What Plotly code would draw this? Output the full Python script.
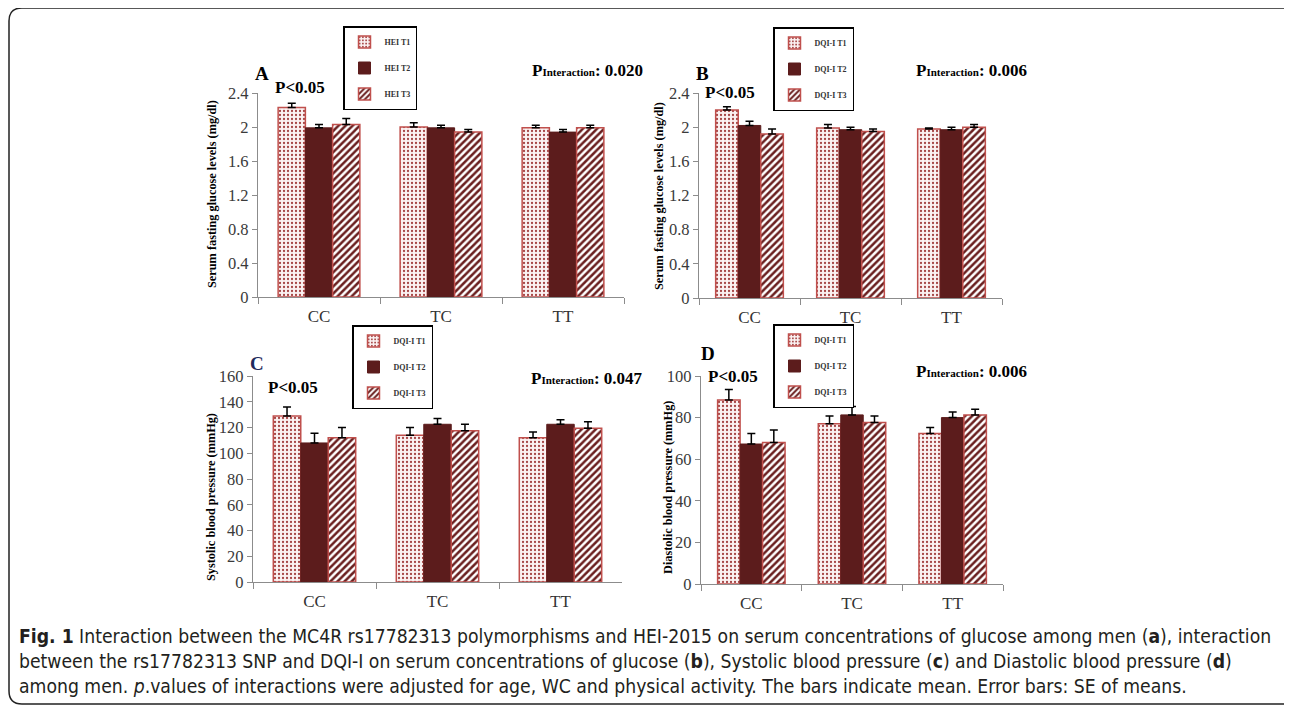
import plotly.graph_objects as go

W, H = 1292, 706
OFF = 8  # page body margin offset in the rendered page

categories = ["CC", "TC", "TT"]

# Panel A: HEI tertiles, serum fasting glucose
a_t1 = [2.23, 2.00, 1.99]
a_t1_se = [0.05, 0.05, 0.03]
a_t2 = [1.99, 1.99, 1.94]
a_t2_se = [0.04, 0.03, 0.03]
a_t3 = [2.03, 1.94, 1.99]
a_t3_se = [0.07, 0.03, 0.03]

# Panel B: DQI-I tertiles, serum fasting glucose
b_t1 = [2.20, 1.99, 1.98]
b_t1_se = [0.04, 0.04, 0.01]
b_t2 = [2.02, 1.97, 1.97]
b_t2_se = [0.05, 0.03, 0.03]
b_t3 = [1.92, 1.95, 2.00]
b_t3_se = [0.06, 0.03, 0.03]

# Panel C: DQI-I tertiles, systolic blood pressure
c_t1 = [129, 114, 112]
c_t1_se = [7, 6, 4.5]
c_t2 = [108, 122.5, 122.5]
c_t2_se = [7.5, 4.5, 3.5]
c_t3 = [112, 117.5, 119.5]
c_t3_se = [8, 5, 5]

# Panel D: DQI-I tertiles, diastolic blood pressure
d_t1 = [88.5, 77, 72.4]
d_t1_se = [5, 3.8, 2.8]
d_t2 = [67.3, 81.3, 80]
d_t2_se = [5, 4, 2.7]
d_t3 = [68, 77.7, 81.3]
d_t3_se = [6, 3.1, 2.7]

legend_names_a = ["HEI T1", "HEI T2", "HEI T3"]
legend_names_dqi = ["DQI-I T1", "DQI-I T2", "DQI-I T3"]

y_titles = ["Serum fasting glucose levels (mg/dl)", "Serum fasting glucose levels (mg/dl)",
            "Systolic blood pressure (mmHg)", "Diastolic blood pressure (mmHg)"]
p_interaction = ["0.020", "0.006", "0.047", "0.006"]
panel_letters = ["A", "B", "C", "D"]

SERIF = "Liberation Serif, Times New Roman, serif"
MAROON = "#5c1c1c"
RED_EDGE = "#c0504d"


def px(x):
    return (x - OFF) / W


def py(y):
    return 1 - (y - OFF) / H


fig = go.Figure()

styles = [
    dict(color="#fbf2f2", line=dict(color=RED_EDGE, width=1.5),
         pattern=dict(shape=".", fgcolor="#a54545", bgcolor="#fbf2f2", size=4, solidity=0.25)),
    dict(color=MAROON, line=dict(color=MAROON, width=1)),
    dict(color="white", line=dict(color=RED_EDGE, width=1.5),
         pattern=dict(shape="/", fgcolor="#6a1f1f", bgcolor="white", size=5, solidity=0.5)),
]

panels = [
    ([a_t1, a_t2, a_t3], [a_t1_se, a_t2_se, a_t3_se], legend_names_a),
    ([b_t1, b_t2, b_t3], [b_t1_se, b_t2_se, b_t3_se], legend_names_dqi),
    ([c_t1, c_t2, c_t3], [c_t1_se, c_t2_se, c_t3_se], legend_names_dqi),
    ([d_t1, d_t2, d_t3], [d_t1_se, d_t2_se, d_t3_se], legend_names_dqi),
]

legend_keys = ["legend", "legend2", "legend3", "legend4"]

for p, (vals, ses, names) in enumerate(panels):
    xa = "x" if p == 0 else f"x{p+1}"
    ya = "y" if p == 0 else f"y{p+1}"
    for i in range(3):
        fig.add_trace(go.Bar(
            x=categories, y=vals[i], name=f"<b>{names[i]}</b>",
            xaxis=xa, yaxis=ya,
            marker=styles[i],
            error_y=dict(type="data", array=ses[i], arrayminus=[0, 0, 0], symmetric=False,
                         color="black", thickness=1.5, width=4),
            legend=legend_keys[p], legendgroup=f"g{p}{i}",
            showlegend=True,
        ))

# axis placement in pixels: (x_left, x_right, y_top, y_bottom)
boxes = [
    (258, 624, 93, 297),
    (699, 1002, 93, 298),
    (253, 622, 376, 582),
    (701, 1003, 376, 584),
]
yranges = [[0, 2.4], [0, 2.4], [0, 160], [0, 100]]
ydticks = [0.4, 0.4, 20, 20]

layout = dict(
    template="none",
    width=W, height=H, margin=dict(l=0, r=0, t=0, b=0, pad=0, autoexpand=False),
    paper_bgcolor="white", plot_bgcolor="white",
    barmode="group", bargap=0.33, bargroupgap=0,
    showlegend=True,
)

for p, (x0, x1, y0, y1) in enumerate(boxes):
    xk = "xaxis" if p == 0 else f"xaxis{p+1}"
    yk = "yaxis" if p == 0 else f"yaxis{p+1}"
    ya = "y" if p == 0 else f"y{p+1}"
    xa = "x" if p == 0 else f"x{p+1}"
    layout[xk] = dict(domain=[px(x0), px(x1)], anchor=ya, type="category", automargin=False,
                      showline=True, linecolor="#8c8c8c", linewidth=1.2,
                      ticks="outside", tickson="boundaries", ticklen=6, tickcolor="#8c8c8c",
                      ticklabelstandoff=3,
                      showgrid=False, zeroline=False,
                      tickfont=dict(family=SERIF, size=17, color="#333"))
    layout[yk] = dict(domain=[py(y1), py(y0)], anchor=xa, range=yranges[p], automargin=False,
                      dtick=ydticks[p], tick0=0,
                      showline=True, linecolor="#8c8c8c", linewidth=1.2,
                      ticks="outside", ticklen=5, tickcolor="#8c8c8c",
                      showgrid=False, zeroline=False,
                      tickfont=dict(family=SERIF, size=16.5, color="#3a3a3a"))

legend_pos = [(343, 26), (773, 27), (352, 325), (773, 324)]
for p, (lx, ly) in enumerate(legend_pos):
    layout[legend_keys[p]] = dict(
        x=px(lx), y=py(ly), xanchor="left", yanchor="top",
        bordercolor="black", borderwidth=1.5, bgcolor="white",
        font=dict(family=SERIF, size=8, color="#333"),
        tracegroupgap=7, itemwidth=30,
    )

fig.update_layout(**layout)

ann = []


def add_text(x, y, text, size, color="black", family=SERIF, angle=0, xanchor="center"):
    ann.append(dict(x=px(x), y=py(y), xref="paper", yref="paper", text=text,
                    xanchor=xanchor, yanchor="middle", showarrow=False, textangle=angle,
                    font=dict(family=family, size=size, color=color)))


# panel letters
letter_pos = [(262, 73), (702, 73), (257, 363), (708, 353)]
letter_col = ["black", "black", "#1f2a5c", "black"]
for p, (lx, ly) in enumerate(letter_pos):
    add_text(lx, ly, f"<b>{panel_letters[p]}</b>", 19, letter_col[p])
# P<0.05
psig_pos = [(300, 87), (730, 92), (293, 387), (733, 377)]
for (lx, ly) in psig_pos:
    add_text(lx, ly, "<b>P&lt;0.05</b>", 17)
# P interaction
pint_pos = [(587, 71), (972, 70), (587, 378), (972, 371)]
for p, (lx, ly) in enumerate(pint_pos):
    add_text(lx, ly, f"<b>P<span style='font-size:11px'>Interaction</span>: {p_interaction[p]}</b>", 17)
# y-axis titles
ytitle_pos = [(212, 194), (659, 196), (211, 497), (668, 488)]
for p, (lx, ly) in enumerate(ytitle_pos):
    add_text(lx, ly, f"<b>{y_titles[p]}</b>", 12.3, angle=-90)

# caption
CAP = "DejaVu Sans Condensed, Liberation Sans Narrow, Arial Narrow, sans-serif"
caption_lines = [
    "<b>Fig. 1</b> Interaction between the MC4R rs17782313 polymorphisms and HEI-2015 on serum concentrations of glucose among men (<b>a</b>), interaction",
    "between the rs17782313 SNP and DQI-I on serum concentrations of glucose (<b>b</b>), Systolic blood pressure (<b>c</b>) and Diastolic blood pressure (<b>d</b>)",
    "among men. <i>p</i>.values of interactions were adjusted for age, WC and physical activity. The bars indicate mean. Error bars: SE of means.",
]
cap_y = [636, 661, 686]
for t, ly in zip(caption_lines, cap_y):
    add_text(17, ly, t, 19.2, color="#231f20", family=CAP, xanchor="left")

fig.update_layout(annotations=ann)

# rounded outer frame
x0, x1, y0, y1, r = 9, 1300, 8, 704, 13
path = (f"M {px(x0)},{py(y1 - r)} L {px(x0)},{py(y0 + r)} Q {px(x0)},{py(y0)} {px(x0 + r)},{py(y0)} "
        f"L {px(x1 - r)},{py(y0)} Q {px(x1)},{py(y0)} {px(x1)},{py(y0 + r)} "
        f"L {px(x1)},{py(y1 - r)} Q {px(x1)},{py(y1)} {px(x1 - r)},{py(y1)} "
        f"L {px(x0 + r)},{py(y1)} Q {px(x0)},{py(y1)} {px(x0)},{py(y1 - r)} Z")
fig.add_shape(type="path", path=path, xref="paper", yref="paper",
              line=dict(color="#222", width=1.5), fillcolor="rgba(0,0,0,0)")

fig.write_html("out.html")
